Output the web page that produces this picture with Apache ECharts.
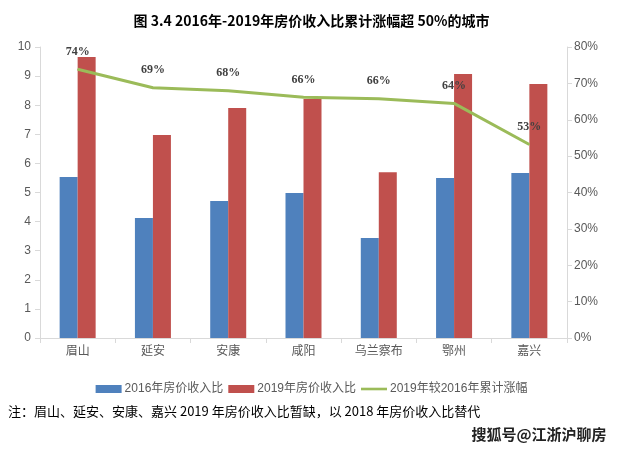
<!DOCTYPE html>
<html><head><meta charset="utf-8">
<script src="https://cdn.jsdelivr.net/npm/echarts@6/dist/echarts.min.js"></script>
<style>html,body{margin:0;padding:0;background:#fff}#c{width:623px;height:450px}</style>
</head><body><div id="c"></div>
<script>
var categories = ['眉山','延安','安康','咸阳','乌兰察布','鄂州','嘉兴'];
var ratio2016 = [5.53, 4.12, 4.71, 4.98, 3.44, 5.50, 5.67];
var ratio2019 = [9.66, 6.98, 7.90, 8.21, 5.70, 9.07, 8.73];
var growth = [73.9, 68.8, 68.0, 66.2, 65.8, 64.5, 53.2];
var growthLabels = ['74%','69%','68%','66%','66%','64%','53%'];
var seriesNames = ['2016年房价收入比','2019年房价收入比','2019年较2016年累计涨幅'];
var titleText = '图 3.4 2016年-2019年房价收入比累计涨幅超 50%的城市';
var noteText = '注：眉山、延安、安康、嘉兴 2019 年房价收入比暂缺，以 2018 年房价收入比替代';
var markText = '搜狐号@江浙沪聊房';

var chart = echarts.init(document.getElementById('c'), null, {renderer:'canvas'});
var fontSans = '"Liberation Sans","Noto Sans CJK SC",sans-serif';
var axisColor = '#d9d9d9';
var labelColor = '#595959';
chart.setOption({
  animation:false,
  title:{text:titleText,left:'center',top:9,textStyle:{fontSize:14,fontWeight:'bold',color:'#000',fontFamily:'"Noto Sans CJK SC",sans-serif'}},
  grid:{left:40,right:56,top:47,bottom:112},
  legend:{
    data:[{name:seriesNames[0],icon:'rect'},{name:seriesNames[1],icon:'rect'},
          {name:seriesNames[2],icon:'path://M0,0H30V3H0Z'}],
    top:378,left:'center',itemWidth:26,itemHeight:8,itemGap:5,
    textStyle:{fontSize:12,color:labelColor,fontFamily:fontSans,padding:[0,0,0,-2]}
  },
  xAxis:{type:'category',data:categories,
    axisLine:{lineStyle:{color:axisColor,width:1}},
    axisTick:{show:true,length:5,lineStyle:{color:axisColor}},
    axisLabel:{color:labelColor,fontSize:12,margin:8,fontFamily:fontSans}},
  yAxis:[
    {type:'value',min:0,max:10,interval:1,
     axisLine:{show:true,lineStyle:{color:axisColor}},
     axisTick:{show:true,length:5,lineStyle:{color:axisColor}},
     splitLine:{show:false},
     axisLabel:{color:labelColor,fontSize:12,margin:9,fontFamily:fontSans}},
    {type:'value',min:0,max:80,interval:10,position:'right',
     axisLine:{show:true,lineStyle:{color:axisColor}},
     axisTick:{show:true,length:5,lineStyle:{color:axisColor}},
     splitLine:{show:false},
     axisLabel:{color:labelColor,fontSize:12,margin:7,fontFamily:fontSans,formatter:'{value}%'}}
  ],
  series:[
    {name:seriesNames[0],type:'bar',data:ratio2016,barWidth:18,barGap:'0%',itemStyle:{color:'#4F81BD'}},
    {name:seriesNames[1],type:'bar',data:ratio2019,barWidth:18,barGap:'0%',itemStyle:{color:'#C0504D'}},
    {name:seriesNames[2],type:'line',yAxisIndex:1,data:growth,symbol:'circle',symbolSize:1,showSymbol:true,
     lineStyle:{color:'#9BBB59',width:3},itemStyle:{color:'#9BBB59'},
     label:{show:true,position:'top',distance:11,fontSize:12,fontWeight:'bold',color:'#404040',
       fontFamily:'"Liberation Serif",serif',
       formatter:function(p){return growthLabels[p.dataIndex];}}}
  ],
  graphic:[
    {type:'text',left:8,top:405,style:{text:noteText,fontSize:13,fill:'#000',fontFamily:'"Noto Sans CJK SC",sans-serif'}},
    {type:'text',left:471,top:426,style:{text:markText,fontSize:15,fontWeight:'bold',fill:'#222',stroke:'#fff',lineWidth:1,fontFamily:'"Noto Sans CJK SC",sans-serif'}}
  ]
});
</script></body></html>
